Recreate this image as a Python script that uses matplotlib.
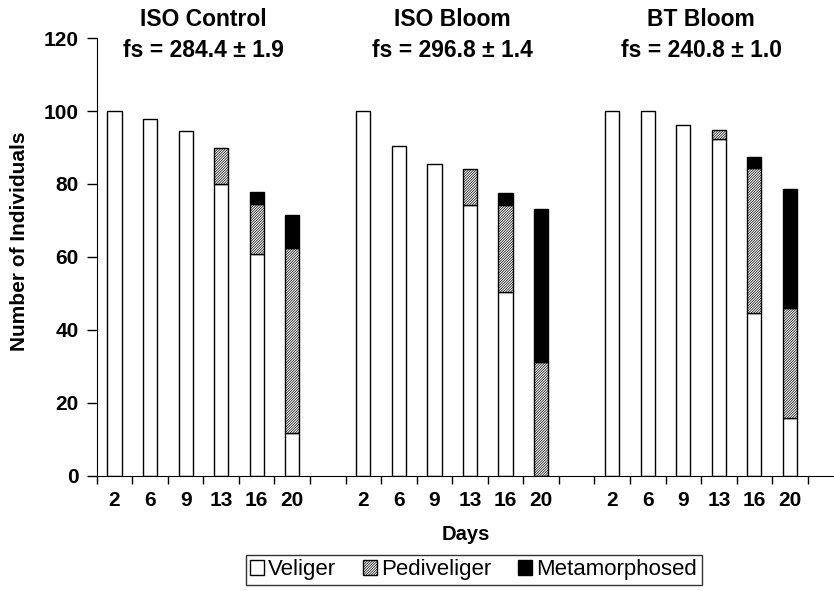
import numpy as np
import matplotlib
matplotlib.use("Agg")
import matplotlib.pyplot as plt

plt.rcParams['font.family'] = ['Liberation Sans', 'DejaVu Sans']
plt.rcParams['hatch.linewidth'] = 0.5
plt.rcParams['hatch.color'] = '#444444'

days = ['2', '6', '9', '13', '16', '20']
groups = ['ISO Control', 'ISO Bloom', 'BT Bloom']
fs_labels = ['fs = 284.4 \u00b1 1.9', 'fs = 296.8 \u00b1 1.4', 'fs = 240.8 \u00b1 1.0']

# one entry per day, group after group
veliger = [100, 97.9, 94.5, 80.0, 60.9, 11.8,
           100, 90.5, 85.5, 74.3, 50.3, 0.0,
           100, 100, 96.3, 92.4, 44.7, 15.9]
pediveliger = [0, 0, 0, 9.8, 13.7, 50.7,
               0, 0, 0, 9.7, 24.0, 31.1,
               0, 0, 0, 2.4, 39.8, 30.2]
metamorphosed = [0, 0, 0, 0, 3.3, 9.1,
                 0, 0, 0, 0, 3.3, 42.0,
                 0, 0, 0, 0, 3.0, 32.6]

# positions: 6 bars, one empty slot, 6 bars, empty slot, 6 bars
pos = np.concatenate([np.arange(6) + 7 * g for g in range(3)])
veliger = np.array(veliger)
pediveliger = np.array(pediveliger)
metamorphosed = np.array(metamorphosed)

fig = plt.figure(figsize=(8.34, 5.91), dpi=100)
ax = fig.add_axes([0.116, 0.195, 0.884, 0.7405])

w = 0.4
hatch = '/' * 13
ax.bar(pos, veliger, w, color='white', edgecolor='black', linewidth=1, label='Veliger')
p = pediveliger > 0
ax.bar(pos[p], pediveliger[p], w, bottom=veliger[p], color='white', edgecolor='black',
       linewidth=1, hatch=hatch, label='Pediveliger')
m = metamorphosed > 0
ax.bar(pos[m], metamorphosed[m], w, bottom=(veliger + pediveliger)[m], color='black',
       edgecolor='black', linewidth=1, label='Metamorphosed')

ax.set_xlim(-0.5, 20.24)
ax.set_ylim(0, 120)
ax.set_yticks(np.arange(0, 121, 20))

ax.set_xticks(pos)
ax.set_xticklabels(days * 3)
ax.set_xticks(np.arange(-0.5, 20, 1), minor=True)
ax.tick_params(axis='x', which='major', length=0, pad=11)
ax.tick_params(axis='x', which='minor', length=6, direction='out', width=1)
ax.tick_params(axis='y', length=7, direction='out', width=1, pad=6)
for lab in ax.get_xticklabels() + ax.get_yticklabels():
    lab.set_fontsize(15)
    lab.set_fontweight('bold')

ax.spines['top'].set_visible(False)
ax.spines['right'].set_visible(False)

ax.set_xlabel('Days', fontsize=14.5, fontweight='bold')
ax.xaxis.set_label_coords(0.5, -0.112)
ax.set_ylabel('Number of Individuals', fontsize=15, fontweight='bold')
ax.yaxis.set_label_coords(-0.092, 0.536)

for g in range(3):
    xc = 7 * g + 2.5
    ax.text(xc, 123.3, groups[g], ha='center', va='baseline',
            fontsize=16.5, fontweight='bold', clip_on=False)
    ax.text(xc, 114.7, fs_labels[g], ha='center', va='baseline',
            fontsize=16.5, fontweight='bold', clip_on=False)

leg = fig.legend(loc='upper center', bbox_to_anchor=(0.568, 0.061), ncol=3,
                 fontsize=16, frameon=True, fancybox=False, edgecolor='black',
                 handlelength=0.62, handleheight=0.62, handletextpad=0.2,
                 columnspacing=1.2, borderpad=0.2, borderaxespad=0)
leg.get_frame().set_linewidth(1)

fig.savefig('out.png', dpi=100)
